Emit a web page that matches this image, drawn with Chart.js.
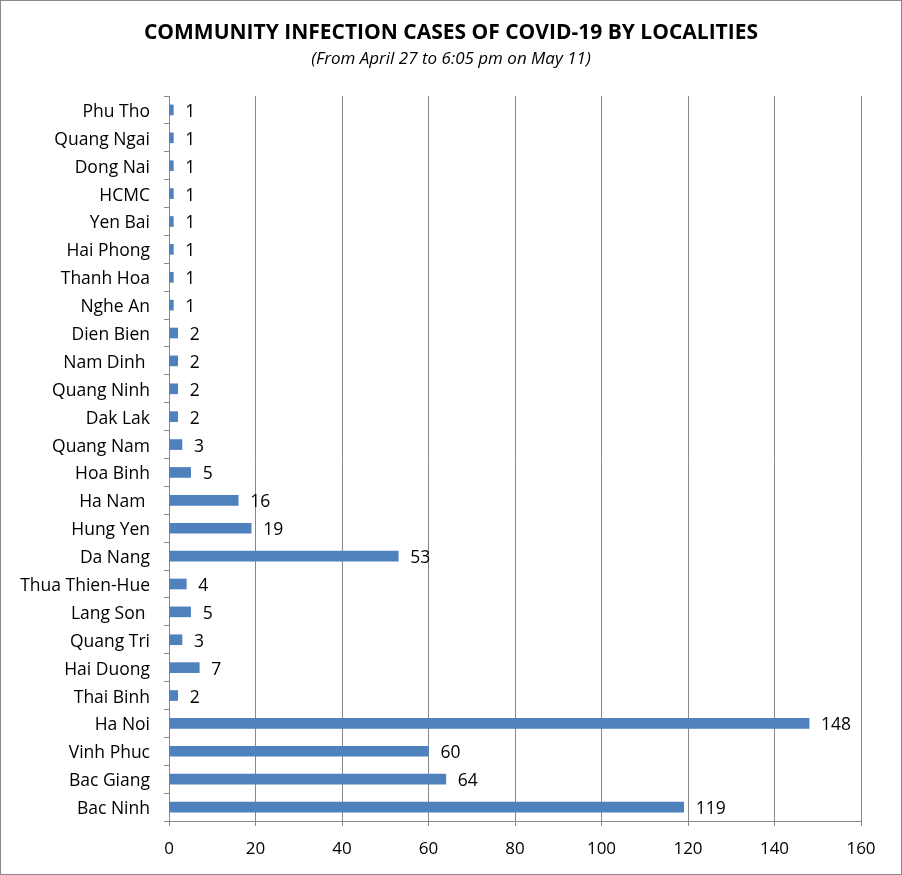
<!DOCTYPE html>
<html>
<head>
<meta charset="utf-8">
<script src="https://cdn.jsdelivr.net/npm/chart.js@4/dist/chart.umd.min.js"></script>
<style>
  html, body { margin: 0; padding: 0; background: #fff; }
  .wrap { width: 902px; height: 875px; box-sizing: border-box; border: 1px solid #888; }
  canvas { display: block; }
</style>
</head>
<body>
<div class="wrap"><canvas id="c" width="900" height="873"></canvas></div>
<script>
// Community infection cases by locality, top to bottom as shown
const localities = [
  "Phu Tho", "Quang Ngai", "Dong Nai", "HCMC", "Yen Bai", "Hai Phong", "Thanh Hoa",
  "Nghe An", "Dien Bien", "Nam Dinh ", "Quang Ninh", "Dak Lak", "Quang Nam", "Hoa Binh",
  "Ha Nam ", "Hung Yen", "Da Nang", "Thua Thien-Hue", "Lang Son ", "Quang Tri",
  "Hai Duong", "Thai Binh", "Ha Noi", "Vinh Phuc", "Bac Giang", "Bac Ninh"
];
const cases = [1, 1, 1, 1, 1, 1, 1, 1, 2, 2, 2, 2, 3, 5, 16, 19, 53, 4, 5, 3, 7, 2, 148, 60, 64, 119];
const xTicks = [0, 20, 40, 60, 80, 100, 120, 140, 160];
const titleText = "COMMUNITY INFECTION CASES OF COVID-19 BY LOCALITIES";
const subtitleText = "(From April 27 to 6:05 pm on May 11)";

const FONT = "'Open Sans', sans-serif";

// title + subtitle centred on the whole canvas (the built-in title would
// centre inside the layout padding)
const titleBlock = {
  id: "titleBlock",
  afterDraw(chart) {
    const ctx = chart.ctx;
    const cx = chart.width / 2;
    ctx.save();
    ctx.fillStyle = "#000";
    ctx.textAlign = "center";
    ctx.textBaseline = "middle";
    ctx.font = "bold 21px " + FONT;
    ctx.fillText(titleText, cx, 32);
    ctx.font = "italic 17px " + FONT;
    ctx.fillText(subtitleText, cx, 58);
    ctx.restore();
  }
};

// draw the value just right of each bar end
const valueLabels = {
  id: "valueLabels",
  afterDatasetsDraw(chart) {
    const ctx = chart.ctx;
    const meta = chart.getDatasetMeta(0);
    ctx.save();
    ctx.font = "17.5px " + FONT;
    ctx.fillStyle = "#000";
    ctx.textBaseline = "middle";
    ctx.textAlign = "left";
    meta.data.forEach((bar, i) => {
      ctx.fillText(String(cases[i]), bar.x + 12, bar.y + 2);
    });
    ctx.restore();
  }
};

new Chart(document.getElementById("c"), {
  type: "bar",
  data: {
    labels: localities,
    datasets: [{
      data: cases,
      backgroundColor: "#4F81BD",
      barThickness: 10,
    }],
  },
  options: {
    indexAxis: "y",
    responsive: false,
    animation: false,
    layout: { padding: { top: 95, right: 40, bottom: 0, left: 0 } },
    plugins: {
      legend: { display: false },
      tooltip: { enabled: false },
    },
    scales: {
      x: {
        min: 0,
        max: 160,
        afterBuildTicks: (s) => { s.ticks = xTicks.map(v => ({ value: v })); },
        afterFit: (s) => { s.height = 53; },
        grid: { color: "#888", tickLength: 5, lineWidth: 1 },
        border: { color: "#888" },
        ticks: { color: "#000", padding: 13, font: { family: FONT, size: 17 } },
      },
      y: {
        afterFit: (s) => { s.width = 168; },
        grid: { drawOnChartArea: false, color: "#888", tickLength: 5, offset: true },
        border: { color: "#888" },
        ticks: { color: "#000", padding: 14, labelOffset: 2, autoSkip: false, font: { family: FONT, size: 17.5 } },
      },
    },
  },
  plugins: [valueLabels, titleBlock],
});
</script>
</body>
</html>
